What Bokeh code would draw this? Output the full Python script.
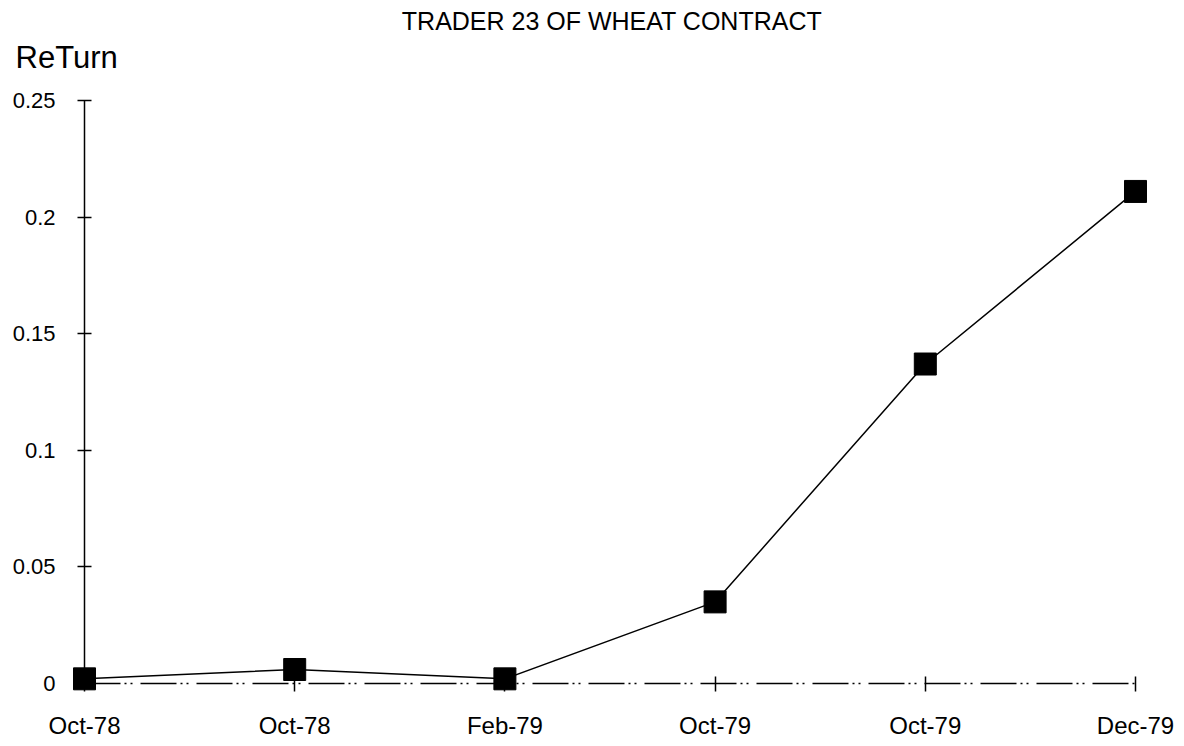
from bokeh.plotting import figure
from bokeh.models import Range1d, FixedTicker
from bokeh.core.properties import value
from bokeh.embed import file_html
from bokeh.resources import INLINE

# ---- data ----
categories = ["Oct-78", "Oct-78", "Feb-79", "Oct-79", "Oct-79", "Dec-79"]
returns = [0.002, 0.006, 0.002, 0.035, 0.137, 0.211]
y_ticks = [0, 0.05, 0.1, 0.15, 0.2, 0.25]
y_tick_labels = ["0", "0.05", "0.1", "0.15", "0.2", "0.25"]
title_text = "TRADER 23 OF WHEAT CONTRACT"
y_label = "ReTurn"

xs = list(range(len(categories)))
FONT = "Liberation Sans"

p = figure(width=1184, height=746, output_backend="svg", toolbar_location=None,
           x_range=Range1d(0, len(categories) - 1), y_range=Range1d(0, y_ticks[-1]),
           min_border_left=84, min_border_right=49, min_border_top=100, min_border_bottom=63)
p.outline_line_color = None
p.grid.visible = False
p.background_fill_color = "white"
p.border_fill_color = "white"

p.line(xs, returns, line_color="black", line_width=1.5, level="overlay")
p.scatter(xs, returns, marker="square", size=22, fill_color="black",
          line_color="black", level="overlay")

# x axis
xa = p.xaxis[0]
xa.ticker = FixedTicker(ticks=xs)
xa.major_label_overrides = {i: c for i, c in enumerate(categories)}
xa.axis_line_dash = "36 4 2 4 2 8"
xa.axis_line_width = 1.5
xa.axis_line_color = "black"
xa.major_tick_in = 7
xa.major_tick_out = 8
xa.major_tick_line_width = 1.5
xa.minor_tick_line_color = None
xa.major_label_standoff = 20
xa.major_label_text_font = FONT
xa.major_label_text_font_size = "24px"
xa.major_label_text_color = "black"

# y axis
ya = p.yaxis[0]
ya.ticker = FixedTicker(ticks=y_ticks)
ya.major_label_overrides = {t: l for t, l in zip(y_ticks, y_tick_labels)}
ya.axis_line_width = 1.5
ya.axis_line_color = "black"
ya.major_tick_in = 7
ya.major_tick_out = 7
ya.major_tick_line_width = 1.5
ya.minor_tick_line_color = None
ya.major_label_standoff = 22
ya.major_label_text_font = FONT
ya.major_label_text_font_size = "22px"
ya.major_label_text_color = "black"

# title and handwritten-style axis label as unclipped text glyphs
p.text(x=[(len(categories) - 1) / 2], y=[y_ticks[-1]], text=[title_text],
       x_offset=2, y_offset=-80, text_align="center", text_baseline="middle",
       text_font=value(FONT), text_font_size="25px", text_color="black", level="overlay")
p.text(x=[0], y=[y_ticks[-1]], text=[y_label],
       x_offset=-69, y_offset=-43, text_align="left", text_baseline="middle",
       text_font=value(FONT), text_font_size="31px", text_color="black", level="overlay")

open("out.html", "w").write(file_html(p, INLINE))
